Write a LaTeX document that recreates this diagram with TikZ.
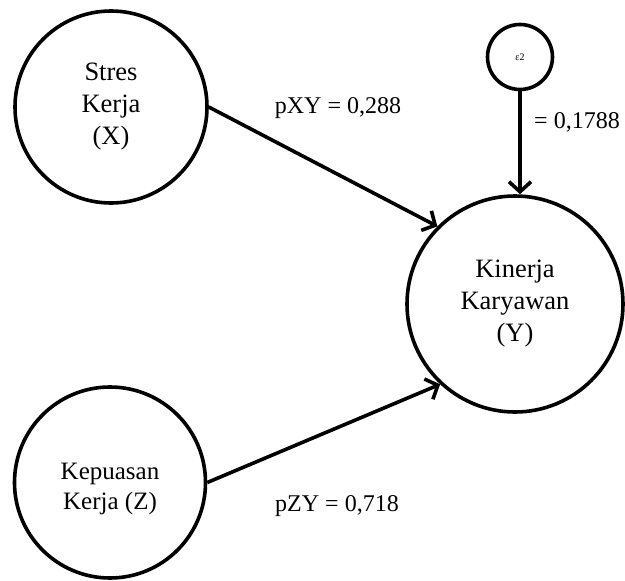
\documentclass[tikz,border=0pt]{standalone}
\usepackage{fontspec}
\setmainfont{Liberation Serif}
\usetikzlibrary{arrows.meta}
\begin{document}
\begin{tikzpicture}[x=1pt,y=-1pt,
  var/.style={circle,draw,line width=3.6pt,inner sep=0pt,align=center,
    font=\fontsize{26.5}{32}\selectfont},
  lbl/.style={font=\fontsize{24}{30}\selectfont,inner sep=0pt},
  path/.style={line width=3.6pt,-{Straight Barb[length=10pt,width=22pt,line width=3.6pt]}}]
\useasboundingbox (0,0) rectangle (625,581);
\node[var,minimum size=192pt] (X) at (111,107) {Stres\\Kerja\\(X)};
\node[var,minimum size=191pt,font=\fontsize{25}{30}\selectfont] (Z) at (110,482.5)
  {\raisebox{-6pt}[\height][\depth]{\begin{tabular}{@{}c@{}}Kepuasan\\Kerja (Z)\end{tabular}}};
\node[var,minimum size=216pt] (Y) at (515,304) {Kinerja\\Karyawan\\(Y)};
\node[var,minimum size=65pt,font=\fontsize{10}{11}\selectfont] (E) at (520,57) {ε2};
\draw[path] (X.east) -- (Y.135);
\draw[path] (Z.east) -- (Y.227);
\draw[path] (E.south) -- (E.south |- Y.north);
\node[lbl] (lxy) at (338,108) {pXY = 0,288};
\node[lbl] (lzy) at (337,506) {pZY = 0,718};
\node[lbl] (le) at (577,122) {= 0,1788};
\end{tikzpicture}
\end{document}
